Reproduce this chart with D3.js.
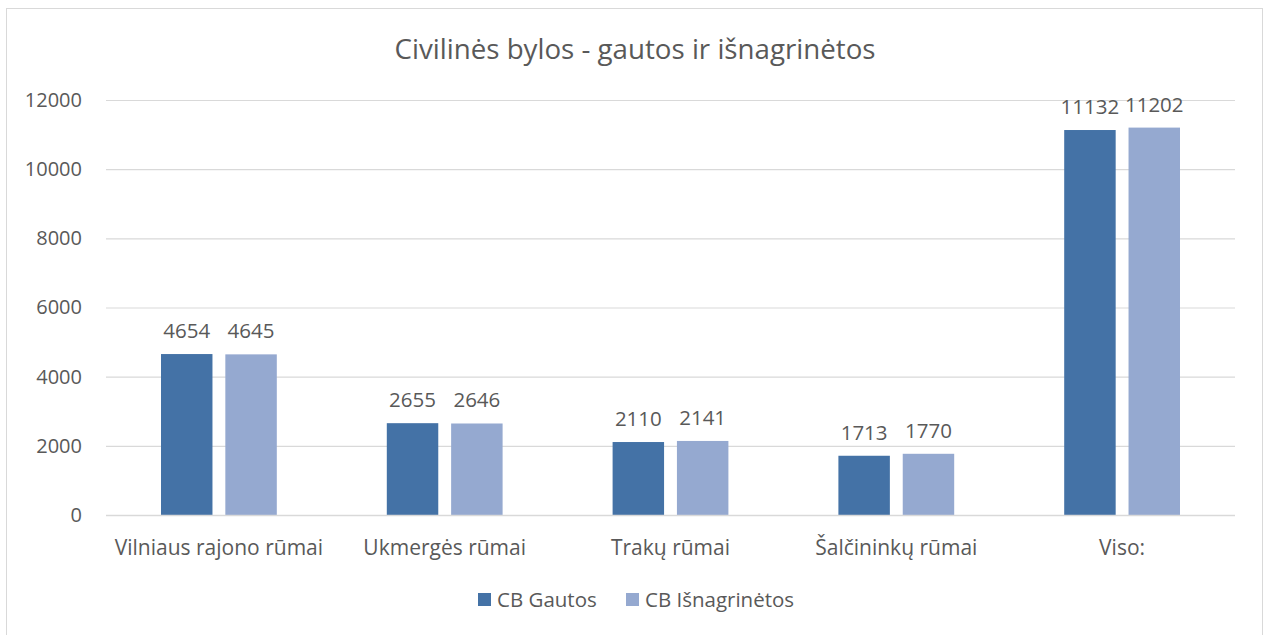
<!DOCTYPE html>
<html>
<head>
<meta charset="utf-8">
<script src="https://cdn.jsdelivr.net/npm/d3@7"></script>
<style>
  body { margin: 0; background: #fff; }
  svg text { font-family: "Open Sans", "Noto Sans", sans-serif; fill: #595959; }
</style>
</head>
<body>
<svg class="chart" width="1270" height="635"></svg>
<script>
const categories = ["Vilniaus rajono rūmai", "Ukmergės rūmai", "Trakų rūmai", "Šalčininkų rūmai", "Viso:"];
const seriesNames = ["CB Gautos", "CB Išnagrinėtos"];
const gautos = [4654, 2655, 2110, 1713, 11132];
const isnagrinetos = [4645, 2646, 2141, 1770, 11202];
const yTicks = [0, 2000, 4000, 6000, 8000, 10000, 12000];
const colors = ["#4472a6", "#95a9d0"];

const svg = d3.select(".chart");

// chart border
svg.append("rect")
  .attr("x", 6.5).attr("y", 8.5)
  .attr("width", 1256).attr("height", 640)
  .attr("fill", "none")
  .attr("stroke", "#d9d9d9");

const plotLeft = 106, plotRight = 1235, plotTop = 100, plotBottom = 515;

const xScale = d3.scaleBand().domain(categories).range([plotLeft, plotRight]);
const xInner = d3.scaleBand().domain(seriesNames)
  .range([55, xScale.bandwidth() - 55])
  .paddingInner(0.2);
const yScale = d3.scaleLinear().domain([0, 12000]).range([plotBottom, plotTop]);

// gridlines + y labels
const yAxis = svg.append("g")
  .attr("transform", `translate(${plotLeft},0)`)
  .call(d3.axisLeft(yScale).tickValues(yTicks).tickSize(-(plotRight - plotLeft)).tickFormat(d3.format("d")));
yAxis.select(".domain").remove();
yAxis.selectAll(".tick line").attr("stroke", "#d9d9d9").attr("stroke-width", 1.2);
yAxis.selectAll(".tick text")
  .attr("x", -24)
  .style("font-size", "20px")
  .style("font-family", "'Open Sans', sans-serif")
  .attr("fill", "#595959");

// bars
const rows = categories.map((c, i) => ({ cat: c, values: [gautos[i], isnagrinetos[i]] }));
const groups = svg.selectAll(".grp")
  .data(rows)
  .enter()
  .append("g")
  .attr("transform", d => `translate(${xScale(d.cat)},0)`);

groups.selectAll("rect")
  .data(d => d.values.map((v, j) => ({ name: seriesNames[j], v: v, j: j })))
  .enter()
  .append("rect")
  .attr("x", d => xInner(d.name))
  .attr("y", d => yScale(d.v))
  .attr("width", xInner.bandwidth())
  .attr("height", d => plotBottom - yScale(d.v))
  .attr("fill", d => colors[d.j]);

groups.selectAll(".lbl")
  .data(d => d.values.map((v, j) => ({ name: seriesNames[j], v: v })))
  .enter()
  .append("text")
  .attr("x", d => xInner(d.name) + xInner.bandwidth() / 2)
  .attr("y", d => yScale(d.v) - 16)
  .attr("text-anchor", "middle")
  .style("font-size", "20.5px")
  .text(d => d.v);

// baseline
svg.append("line")
  .attr("x1", plotLeft).attr("x2", plotRight)
  .attr("y1", plotBottom + 0.5).attr("y2", plotBottom + 0.5)
  .attr("stroke", "#d9d9d9").attr("stroke-width", 1.5);

// category labels
svg.selectAll(".cat")
  .data(categories)
  .enter()
  .append("text")
  .attr("x", d => xScale(d) + xScale.bandwidth() / 2)
  .attr("y", 555)
  .attr("text-anchor", "middle")
  .style("font-size", "21px")
  .text(d => d);

// title
svg.append("text")
  .attr("x", 635).attr("y", 59)
  .attr("text-anchor", "middle")
  .style("font-size", "27.7px")
  .text("Civilinės bylos - gautos ir išnagrinėtos");

// legend
const legendX = [478, 626];
const legend = svg.selectAll(".leg")
  .data(seriesNames)
  .enter()
  .append("g")
  .attr("transform", (d, i) => `translate(${legendX[i]},593)`);
legend.append("rect")
  .attr("width", 13).attr("height", 13)
  .attr("fill", (d, i) => colors[i]);
legend.append("text")
  .attr("x", 19).attr("y", 14)
  .style("font-size", "20.5px")
  .text(d => d);
</script>
</body>
</html>
